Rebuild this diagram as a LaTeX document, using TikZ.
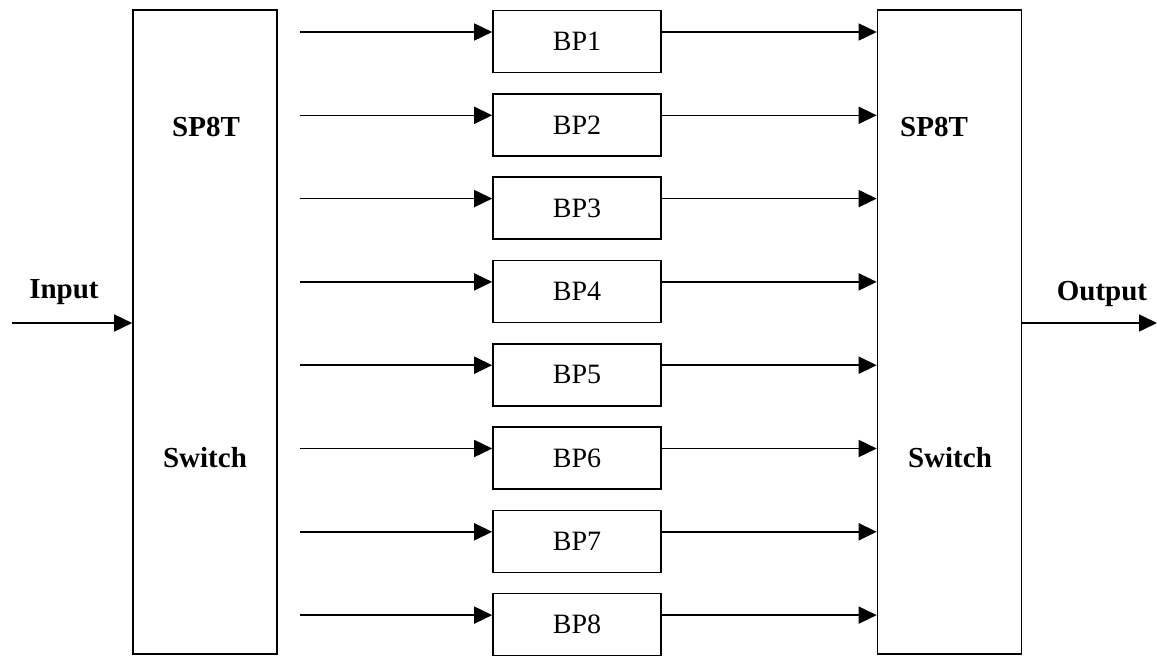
\documentclass[tikz,border=0pt]{standalone}
\usepackage{fontspec}
\setmainfont{Liberation Serif}
\usetikzlibrary{positioning,arrows.meta}

\begin{document}
\begin{tikzpicture}[x=1pt,y=-1pt,
	switchbox/.style={draw,line width=1.6pt,minimum width=144pt,minimum height=644pt,inner sep=0pt},
	bpbox/.style={draw,line width=1.6pt,minimum width=168pt,minimum height=62pt,inner sep=0pt,
		font=\fontsize{28}{32}\selectfont},
	lbl/.style={font=\fontsize{29}{34}\selectfont\bfseries,inner sep=0pt},
	sig/.style={line width=1.6pt,-{Triangle[length=18pt,width=17pt]}}]
\useasboundingbox (0,0) rectangle (1157,656);

\node[switchbox] (sw1) at (205,332) {};
\node[switchbox] (sw2) at (949.5,332) {};
\node[lbl] (sp1) at (206,127) {SP8T};
\node[lbl] (sl1) at (205,458) {Switch};
\node[lbl] (sp2) at (934,127) {SP8T};
\node[lbl] (sl2) at (950,458) {Switch};

\foreach \i in {1,...,8}{
	\node[bpbox] (bp\i) at (577,{41.5+83.3*(\i-1)}) {BP\i};
	\coordinate (in\i) at (300,{32+83.3*(\i-1)});
	\draw[sig](in\i)--(in\i -| bp\i.west);
	\draw[sig](bp\i.east |- in\i)--(in\i -| sw2.west);
}

\coordinate (inp) at (12,323);
\coordinate (outp) at (1157,323);
\node[lbl] (inlbl) at (64,292) {Input};
\node[lbl] (outlbl) at (1102,294) {Output};
\draw[sig](inp)--(inp -| sw1.west);
\draw[sig](sw2.east |- outp)--(outp);

\end{tikzpicture}
\end{document}
